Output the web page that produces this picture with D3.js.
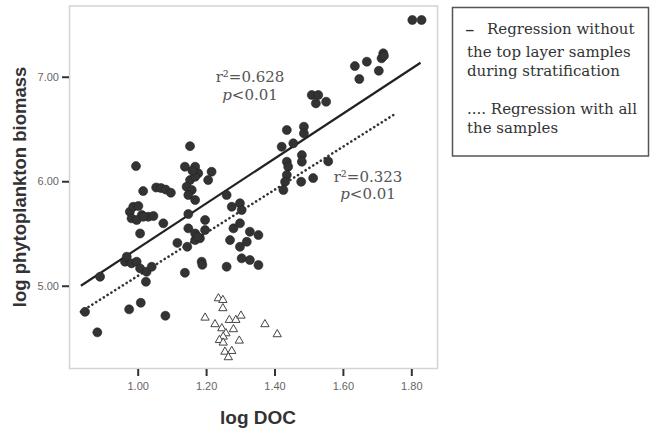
<!DOCTYPE html>
<html>
<head>
<meta charset="utf-8">
<title>log DOC vs log phytoplankton biomass</title>
<script src="https://d3js.org/d3.v7.min.js"></script>
<style>
body { margin: 0; background: #fff; }
svg { display: block; }
.tick text { font-family: "Liberation Sans", Arial, sans-serif; font-size: 11px; fill: #666; }
.tick line { stroke: #333; stroke-width: 2; }
.note { font-family: "DejaVu Serif", serif; font-size: 15px; fill: #555; }
.legend text { font-family: "DejaVu Serif", serif; font-size: 15px; fill: #333; }
.title { font-family: "Liberation Sans", Arial, sans-serif; font-weight: bold; fill: #333; }
</style>
</head>
<body>
<div id="chart"></div>
<script>
// filled circles: samples used for the solid regression
var circleX = [0.846, 0.882, 0.890, 0.975, 1.009, 1.081,
  0.963, 0.968, 0.982, 0.997, 1.007, 1.026, 1.041, 1.024,
  1.007, 0.977, 0.987, 1.002, 1.012, 1.031, 1.046, 0.982, 0.997, 1.016,
  0.995, 1.016, 1.075, 1.054, 1.068, 1.082, 1.097,
  1.116, 1.138, 1.145, 1.168,
  1.153, 1.138, 1.168, 1.177, 1.153, 1.143, 1.158, 1.148, 1.168, 1.148, 1.148, 1.168, 1.160,
  1.216, 1.206, 1.260, 1.275, 1.299, 1.304,
  1.197, 1.168, 1.182, 1.197, 1.175,
  1.280, 1.299, 1.328, 1.353, 1.270, 1.319, 1.299, 1.304, 1.328, 1.353, 1.187, 1.189, 1.260,
  1.421, 1.436, 1.455, 1.486, 1.486, 1.480, 1.480, 1.436, 1.440, 1.436, 1.431, 1.426, 1.478, 1.513, 1.557,
  1.509, 1.528, 1.521, 1.551,
  1.803, 1.830, 1.635, 1.670, 1.718, 1.713, 1.705, 1.648, 1.720];
var circleY = [4.750, 4.554, 5.086, 4.774, 4.837, 4.713,
  5.230, 5.278, 5.214, 5.230, 5.166, 5.134, 5.182, 5.038,
  5.500, 5.708, 5.756, 5.763, 5.677, 5.660, 5.667, 5.645, 5.629, 5.660,
  6.145, 5.906, 5.597, 5.940, 5.935, 5.920, 5.890,
  5.410, 5.124, 5.373, 5.437,
  6.336, 6.139, 6.139, 6.076, 6.011, 5.947, 5.916, 5.868, 5.820, 5.686, 5.549, 6.043, 6.100,
  6.091, 6.011, 5.868, 5.756, 5.789, 5.724,
  5.629, 5.500, 5.454, 5.533, 5.470,
  5.549, 5.597, 5.517, 5.485, 5.437, 5.421, 5.373, 5.262, 5.246, 5.198, 5.230, 5.200, 5.182,
  6.330, 6.490, 6.363, 6.522, 6.458, 6.250, 6.187, 6.187, 6.139, 6.060, 5.995, 5.916, 5.995, 6.030, 6.190,
  6.825, 6.825, 6.745, 6.761,
  7.543, 7.543, 7.102, 7.144, 7.224, 7.176, 7.057, 6.978, 7.200];

// open triangles: top layer samples during stratification
var triX = [1.236, 1.249, 1.249, 1.197, 1.226, 1.268, 1.287, 1.302, 1.246, 1.280,
  1.258, 1.250, 1.239, 1.250, 1.297, 1.255, 1.275, 1.265, 1.372, 1.408];
var triY = [4.879, 4.863, 4.784, 4.694, 4.631, 4.672, 4.672, 4.713, 4.592, 4.583,
  4.544, 4.512, 4.480, 4.455, 4.474, 4.368, 4.375, 4.315, 4.631, 4.535];

// regression lines (end points in data units)
var solidX = [0.834, 1.827], solidY = [5.000, 7.134];
var dottedX = [0.834, 1.752], dottedY = [4.751, 6.643];

var xTicks = [1.00, 1.20, 1.40, 1.60, 1.80];
var yTicks = [5.00, 6.00, 7.00];

var width = 651, height = 431;
var box = {left: 69.5, right: 437.5, top: 6, bottom: 368.5};

var svg = d3.select("#chart").append("svg")
  .attr("width", width).attr("height", height);

var x = d3.scaleLinear().domain([0.8006, 1.8766]).range([box.left, box.right]);
var y = d3.scaleLinear().domain([4.208, 7.677]).range([box.bottom, box.top]);

// plot frame
svg.append("rect")
  .attr("x", box.left).attr("y", box.top)
  .attr("width", box.right - box.left).attr("height", box.bottom - box.top)
  .attr("fill", "none").attr("stroke", "#d4d4d4").attr("stroke-width", 1.5);

svg.append("g")
  .attr("transform", "translate(0," + (box.bottom + 0.5) + ")")
  .call(d3.axisBottom(x).tickValues(xTicks).tickFormat(d3.format(".2f")).tickSize(7).tickPadding(6))
  .call(function(g) { g.select(".domain").remove(); });

svg.append("g")
  .attr("transform", "translate(" + (box.left - 0.5) + ",0)")
  .call(d3.axisLeft(y).tickValues(yTicks).tickFormat(d3.format(".2f")).tickSize(7).tickPadding(3))
  .call(function(g) { g.select(".domain").remove(); });

// regression lines
var line = d3.line().x(function(d) { return x(d[0]); }).y(function(d) { return y(d[1]); });

svg.append("path")
  .datum(d3.zip(solidX, solidY))
  .attr("d", line)
  .attr("fill", "none").attr("stroke", "#222").attr("stroke-width", 2.2);

svg.append("path")
  .datum(d3.zip(dottedX, dottedY))
  .attr("d", line)
  .attr("fill", "none").attr("stroke", "#333").attr("stroke-width", 2.6)
  .attr("stroke-linecap", "round").attr("stroke-dasharray", "0.1,4.4");

// points
svg.append("g").selectAll("circle")
  .data(d3.zip(circleX, circleY))
  .enter().append("circle")
  .attr("cx", function(d) { return x(d[0]); })
  .attr("cy", function(d) { return y(d[1]); })
  .attr("r", 4.5)
  .attr("fill", "#333").attr("stroke", "#222").attr("stroke-width", 0.6);

var tri = d3.symbol().type(d3.symbolTriangle).size(30);
svg.append("g").selectAll("path")
  .data(d3.zip(triX, triY))
  .enter().append("path")
  .attr("d", tri)
  .attr("transform", function(d) { return "translate(" + x(d[0]) + "," + y(d[1]) + ")"; })
  .attr("fill", "#fff").attr("stroke", "#444").attr("stroke-width", 1);

// r² notes
var notes = [
  {x: 250, y: 81.5, t: "r²=0.628"},
  {x: 250, y: 99.5, t: "p", rest: "<0.01"},
  {x: 368, y: 181.5, t: "r²=0.323"},
  {x: 368, y: 199, t: "p", rest: "<0.01"}
];
notes.forEach(function(n) {
  var t = svg.append("text").attr("class", "note")
    .attr("x", n.x).attr("y", n.y).attr("text-anchor", "middle");
  if (n.rest) {
    t.append("tspan").attr("font-style", "italic").text(n.t);
    t.append("tspan").text(n.rest);
  } else {
    t.text(n.t);
  }
});

// axis titles
svg.append("text").attr("class", "title")
  .attr("x", 258).attr("y", 424).attr("text-anchor", "middle")
  .attr("font-size", 19).text("log DOC");

svg.append("text").attr("class", "title")
  .attr("transform", "translate(26,187) rotate(-90)")
  .attr("text-anchor", "middle").attr("font-size", 18.5)
  .text("log phytoplankton biomass");

// legend box
var leg = svg.append("g").attr("class", "legend");
leg.append("rect")
  .attr("x", 452.5).attr("y", 7.5).attr("width", 196).attr("height", 148.5)
  .attr("fill", "#fff").attr("stroke", "#555").attr("stroke-width", 1.5);
leg.append("text").attr("x", 466).attr("y", 27.5)
  .attr("font-size", 19).attr("font-weight", "bold").text("_");
leg.append("text").attr("x", 487).attr("y", 33.5).text("Regression without");
leg.append("text").attr("x", 467).attr("y", 57).text("the top layer samples");
leg.append("text").attr("x", 467).attr("y", 76).text("during stratification");
leg.append("text").attr("x", 467).attr("y", 114).text(".... Regression with all");
leg.append("text").attr("x", 467).attr("y", 132.5).text("the samples");
</script>
</body>
</html>
